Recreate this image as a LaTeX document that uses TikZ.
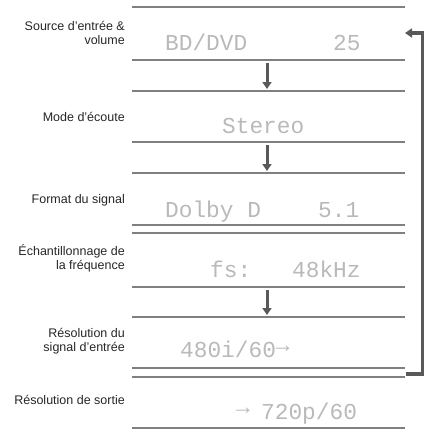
\documentclass[tikz,border=0pt]{standalone}
\usepackage{fontspec}
\setmainfont{Liberation Sans}
\newfontfamily\lcdfont{Liberation Mono}
\usetikzlibrary{arrows.meta}

\begin{document}
\begin{tikzpicture}[x=1pt,y=-1pt,
	rule/.style={black!50,line width=1.4pt},
	down/.style={black!65,line width=3pt,-{Triangle[width=9pt,length=7pt]}},
	back/.style={black!65,line width=3.2pt,line join=miter,-{Triangle[width=9pt,length=7pt]}},
	label/.style={anchor=east,align=right,inner sep=0pt,font=\fontsize{12.5}{14}\selectfont,text=black!85},
	lcd/.style={anchor=base west,inner sep=0pt,font=\lcdfont\fontsize{22.8}{24}\selectfont,text=gray!55}]
	\useasboundingbox (0,0) rectangle (428,432);

	% source and volume
	\draw[rule] (132,7) -- (405,7);
	\node[label] (lblSource) at (125,32.5) {Source d'entrée \&\\volume};
	\node[lcd] (dspSource) at (165,50) {BD/DVD};
	\node[lcd] (dspVolume) at (333,50) {25};
	\draw[rule] (132,60) -- (405,60);
	\coordinate (d1a) at (267,63);
	\coordinate (d1b) at (267,89);
	\draw[down] (d1a) -- (d1b);

	% listening mode
	\draw[rule] (132,91) -- (405,91);
	\node[label] (lblMode) at (125,117) {Mode d'écoute};
	\node[lcd] (dspMode) at (222,133) {Stereo};
	\draw[rule] (132,142) -- (405,142);
	\coordinate (d2a) at (267,145);
	\coordinate (d2b) at (267,171);
	\draw[down] (d2a) -- (d2b);

	% signal format
	\draw[rule] (132,173) -- (405,173);
	\node[label] (lblFormat) at (125,200) {Format du signal};
	\node[lcd] (dspFormat) at (165,217) {Dolby D};
	\node[lcd] (dspChannels) at (318,217) {5.1};
	\draw[rule] (132,225) -- (405,225);

	% sampling frequency
	\draw[rule] (132,233) -- (405,233);
	\node[label] (lblSampling) at (125,258.5) {Échantillonnage de\\la fréquence};
	\node[lcd] (dspFs) at (210,277) {fs:};
	\node[lcd] (dspRate) at (292,277) {48kHz};
	\draw[rule] (132,287) -- (405,287);
	\coordinate (d3a) at (267,290);
	\coordinate (d3b) at (267,315);
	\draw[down] (d3a) -- (d3b);

	% input resolution
	\draw[rule] (132,317) -- (405,317);
	\node[label] (lblInput) at (125,341.5) {Résolution du\\signal d'entrée};
	\node[lcd] (dspInput) at (180,357) {480i/60\raisebox{5pt}{→}};
	\draw[rule] (132,368) -- (405,368);

	% output resolution
	\draw[rule] (132,377) -- (405,377);
	\node[label] (lblOutput) at (125,400) {Résolution de sortie};
	\node[lcd] (dspArrow) at (236,419) {\raisebox{5pt}{→}};
	\node[lcd] (dspOutput) at (261,419) {720p/60};
	\draw[rule] (132,428) -- (405,428);

	% back to the top
	\coordinate (retA) at (406,374);
	\coordinate (retLow) at (422.5,374);
	\coordinate (retHigh) at (422.5,33);
	\coordinate (retB) at (405,33);
	\draw[back] (retA) -- (retLow) -- (retHigh) -- (retB);
\end{tikzpicture}
\end{document}
